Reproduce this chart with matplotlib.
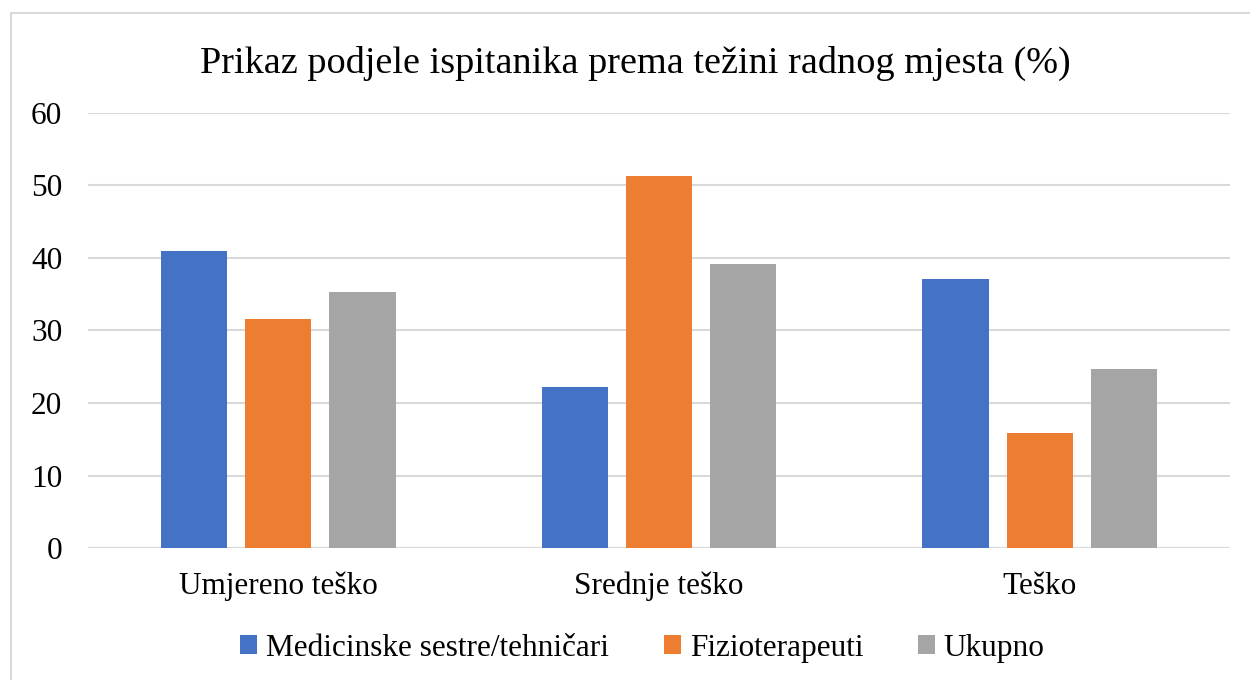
import matplotlib
matplotlib.use("Agg")
import matplotlib.pyplot as plt
import numpy as np
from matplotlib.patches import Rectangle

categories = ["Umjereno teško", "Srednje teško", "Teško"]
series_names = ["Medicinske sestre/tehničari", "Fizioterapeuti", "Ukupno"]
sestre = [40.9, 22.2, 37.1]
fizio = [31.6, 51.3, 15.9]
ukupno = [35.3, 39.2, 24.7]
colors = ["#4472C4", "#ED7D31", "#A5A5A5"]
yticks = [0, 10, 20, 30, 40, 50, 60]

plt.rcParams['font.family'] = ['Liberation Serif', 'DejaVu Serif']

fig = plt.figure(figsize=(12.5, 6.8), dpi=100)
fig.patches.append(Rectangle((11 / 1250, -0.05), 1.1, 1 - 13 / 680 + 0.05, transform=fig.transFigure,
                             fill=False, edgecolor="#D9D9D9", linewidth=1.5))
ax = fig.add_axes([0.0704, 0.194, 0.9136, 0.640])

x = np.arange(len(categories))
w = 0.174
off = 0.221
for i, (vals, name) in enumerate(zip([sestre, fizio, ukupno], series_names)):
    ax.bar(x + (i - 1) * off, vals, width=w, color=colors[i], label=name, zorder=3)

ax.set_xlim(-0.5, 2.5)
ax.set_ylim(0, 60)
ax.set_yticks(yticks)
ax.set_yticklabels([str(t) for t in yticks], fontsize=22.5)
ax.set_xticks(x)
ax.set_xticklabels(categories, fontsize=22.5)
ax.tick_params(axis='both', length=0)
ax.tick_params(axis='x', pad=17)
ax.tick_params(axis='y', pad=18.5)
ax.grid(axis='y', color="#D9D9D9", linewidth=1.5, zorder=0)
for s in ax.spines.values():
    s.set_visible(False)
ax.axhline(0, color="#D9D9D9", linewidth=1.5, zorder=1)

fig.text(0.508, 0.907, "Prikaz podjele ispitanika prema težini radnog mjesta (%)",
         ha="center", va="center", fontsize=27.5, color="#000000")

handles, labels = ax.get_legend_handles_labels()
fig.legend(handles, labels, loc="center", bbox_to_anchor=(0.514, 0.047), ncol=3,
           frameon=False, fontsize=22.5, handlelength=0.55, handleheight=0.55,
           handletextpad=0.28, columnspacing=1.75, borderaxespad=0, borderpad=0)

fig.savefig("out.png", dpi=100)
